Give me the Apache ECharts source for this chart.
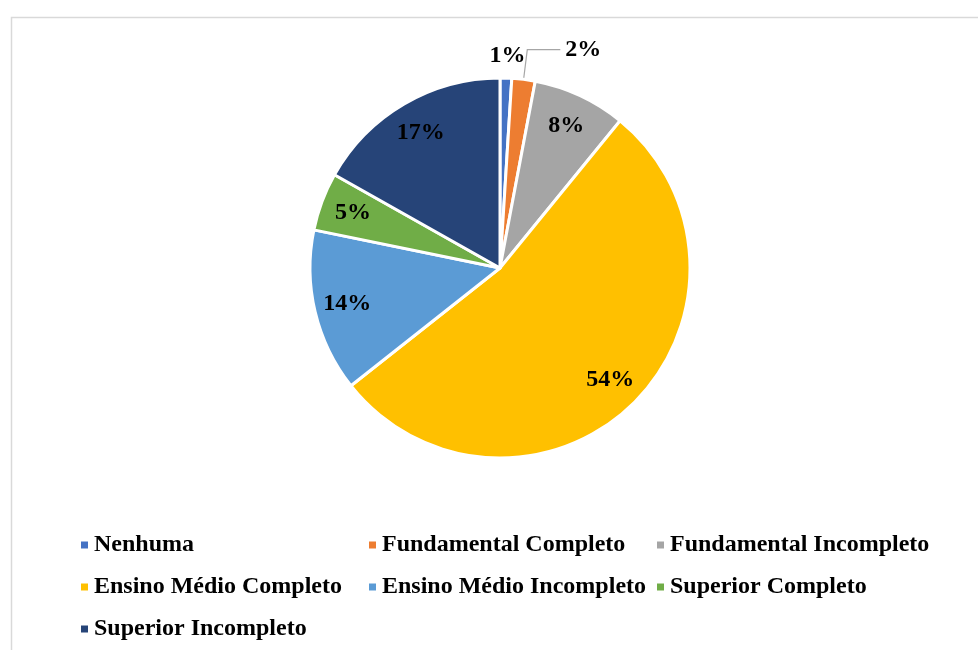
<!DOCTYPE html>
<html>
<head>
<meta charset="utf-8">
<script src="https://cdn.jsdelivr.net/npm/echarts@6/dist/echarts.min.js"></script>
<style>
  html, body { margin: 0; padding: 0; background: #ffffff; }
  #chart { width: 978px; height: 650px; }
</style>
</head>
<body>
<div id="chart"></div>
<script>
// Escolaridade dos entrevistados (%)
const categories = [
  'Nenhuma',
  'Fundamental Completo',
  'Fundamental Incompleto',
  'Ensino Médio Completo',
  'Ensino Médio Incompleto',
  'Superior Completo',
  'Superior Incompleto'
];
const values = [1, 2, 8, 54, 14, 5, 17];
const colors = ['#4472C4', '#ED7D31', '#A5A5A5', '#FFC000', '#5B9BD5', '#70AD47', '#264478'];

// legend columns (row-major order laid out in three columns)
const legendColumns = [
  ['Nenhuma', 'Ensino Médio Completo', 'Superior Incompleto'],
  ['Fundamental Completo', 'Ensino Médio Incompleto'],
  ['Fundamental Incompleto', 'Superior Completo']
];

const FONT = '"Liberation Serif", "Times New Roman", serif';
const center = [500, 268];
const R = 190;

const chart = echarts.init(document.getElementById('chart'), null, { renderer: 'canvas' });

const sliceData = categories.map((name, i) => ({
  name,
  value: values[i],
  itemStyle: { color: colors[i] }
}));

// label-only ring: puts inner labels at ~0.8 of the radius, small slices outside
const labelData = categories.map((name, i) => {
  const item = { name, value: values[i] };
  if (values[i] <= 1) {
    item.label = { position: 'outside', distanceToLabelLine: -17 };
    item.labelLine = { show: false, length: 22, length2: 0 };
  } else if (values[i] <= 2) {
    item.label = { position: 'outside', distanceToLabelLine: 5 };
    item.labelLine = { show: true, length: 30, length2: 33 };
  }
  return item;
});

const legends = legendColumns.map((col, c) => ({
  orient: 'vertical',
  left: [79, 367, 655][c],
  top: 530,
  padding: 0,
  itemGap: 12,
  itemWidth: 9,
  itemHeight: 9,
  icon: 'rect',
  selectedMode: false,
  data: col,
  textStyle: {
    fontFamily: FONT,
    fontWeight: 'bold',
    fontSize: 24,
    lineHeight: 30,
    color: '#000000'
  }
}));

chart.setOption({
  animation: false,
  backgroundColor: '#ffffff',
  graphic: [{
    type: 'rect',
    left: 9,
    top: 15,
    shape: { width: 1000, height: 700 },
    style: { fill: 'none', stroke: '#d9d9d9', lineWidth: 1.5 },
    silent: true
  }],
  legend: legends,
  series: [
    {
      type: 'pie',
      center: center,
      radius: [0, R],
      startAngle: 90,
      clockwise: true,
      avoidLabelOverlap: false,
      label: { show: false },
      labelLine: { show: false },
      itemStyle: { borderColor: '#ffffff', borderWidth: 3 },
      emphasis: { disabled: true },
      data: sliceData
    },
    {
      type: 'pie',
      center: center,
      radius: [118, R],
      startAngle: 90,
      clockwise: true,
      silent: true,
      avoidLabelOverlap: false,
      itemStyle: { color: 'rgba(0,0,0,0)', borderWidth: 0 },
      emphasis: { disabled: true },
      label: {
        show: true,
        position: 'inside',
        formatter: p => p.value + '%',
        fontFamily: FONT,
        fontWeight: 'bold',
        fontSize: 24,
        color: '#000000'
      },
      labelLine: {
        lineStyle: { color: '#a6a6a6', width: 1.2 }
      },
      data: labelData
    }
  ]
});
</script>
</body>
</html>
